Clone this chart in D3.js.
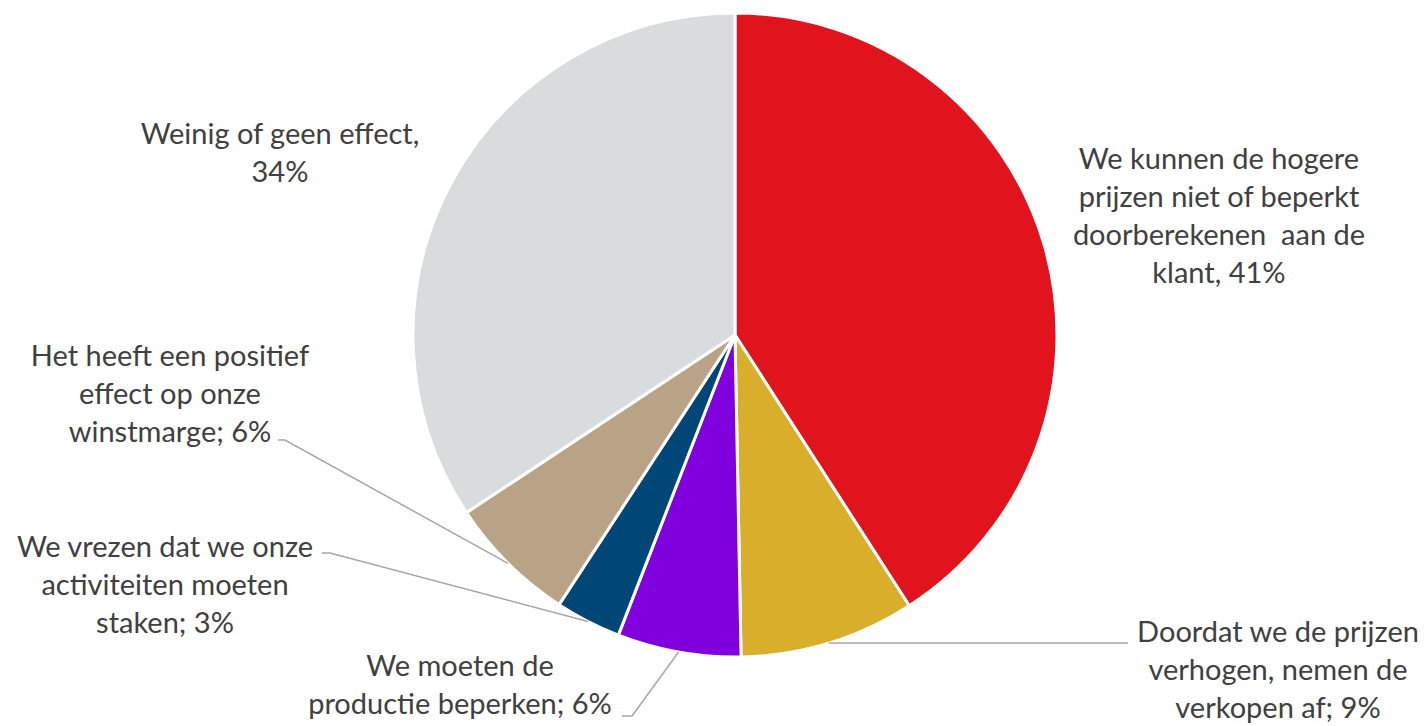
<!DOCTYPE html>
<html><head><meta charset="utf-8">
<script src="https://cdn.jsdelivr.net/npm/d3@7"></script>
<style>html,body{margin:0;padding:0;background:#fff;}svg{display:block;}</style>
</head><body>
<svg id="chart" width="1426" height="726"></svg>
<script>
const categories = [
  "We kunnen de hogere prijzen niet of beperkt doorberekenen aan de klant",
  "Doordat we de prijzen verhogen, nemen de verkopen af",
  "We moeten de productie beperken",
  "We vrezen dat we onze activiteiten moeten staken",
  "Het heeft een positief effect op onze winstmarge",
  "Weinig of geen effect"
];
const values = [40.9, 8.8, 6.2, 3.3, 6.5, 34.3];
const labelLines = [
  ["We kunnen de hogere", "prijzen niet of beperkt", "doorberekenen  aan de", "klant, 41%"],
  ["Doordat we de prijzen", "verhogen, nemen de", "verkopen af; 9%"],
  ["We moeten de", "productie beperken; 6%"],
  ["We vrezen dat we onze", "activiteiten moeten", "staken; 3%"],
  ["Het heeft een positief", "effect op onze", "winstmarge; 6%"],
  ["Weinig of geen effect,", "34%"]
];
const colors = ["#E1141E", "#D9AE2A", "#8000DE", "#004677", "#B8A386", "#D9DCDD"];

// layout
const cx = 735, cy = 335, R = 322;
const labelPos = [
  {x: 1219, y: 169}, {x: 1278, y: 642}, {x: 460, y: 676},
  {x: 165, y: 557}, {x: 170, y: 366}, {x: 280, y: 144}
];
const lineH = 38;
const leaders = [
  null,
  {elbow: [1128, 643], end: [1128, 643]},
  {elbow: [632, 716], end: [622, 716]},
  {elbow: [330, 553], end: [322, 553]},
  {elbow: [285, 440], end: [278, 440]},
  null
];

const svg = d3.select("#chart");
const pie = d3.pie().sort(null).value(d => d)(values);
const arc = d3.arc().innerRadius(0).outerRadius(R);
const g = svg.append("g").attr("transform", `translate(${cx},${cy})`);
g.selectAll("path").data(pie).join("path")
  .attr("d", arc)
  .attr("fill", (d, i) => colors[i])
  .attr("stroke", "#fff").attr("stroke-width", 3).attr("stroke-linejoin", "round");

// leader lines from the slice's outer edge at its mid angle
pie.forEach((d, i) => {
  const L = leaders[i];
  if (!L) return;
  const mid = (d.startAngle + d.endAngle) / 2;
  const p0 = [cx + R * Math.sin(mid), cy - R * Math.cos(mid)];
  svg.append("path")
    .attr("d", d3.line()([p0, L.elbow, L.end]))
    .attr("fill", "none").attr("stroke", "#A6A6A6").attr("stroke-width", 1.5);
});

// labels
labelLines.forEach((lines, i) => {
  const t = svg.append("text")
    .attr("text-anchor", "middle")
    .attr("font-family", "Lato, 'Open Sans', sans-serif")
    .attr("font-size", 29)
    .attr("fill", "#404040");
  lines.forEach((s, j) => {
    t.append("tspan").attr("x", labelPos[i].x).attr("y", labelPos[i].y + j * lineH)
      .attr("xml:space", "preserve").text(s);
  });
});
</script>
</body></html>
